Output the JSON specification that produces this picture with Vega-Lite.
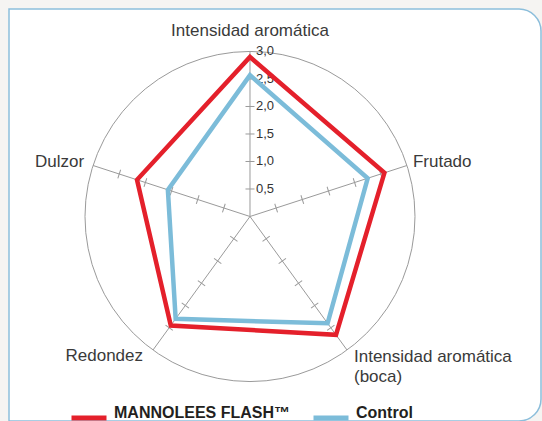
{
  "$schema": "https://vega.github.io/schema/vega-lite/v6.json",
  "width": 532,
  "height": 412,
  "autosize": "none",
  "padding": {"left": 9, "top": 9, "right": 1, "bottom": 0},
  "background": "#f5f4f2",
  "config": {
    "view": {"stroke": "#8cbedb", "strokeWidth": 1.5, "fill": "#ffffff", "cornerRadius": 22},
    "style": {"cell": {"cornerRadiusTopLeft": 0, "cornerRadiusBottomLeft": 0}},
    "font": "Liberation Sans"
  },
  "datasets": {
    "axes": [
      {"i": 0, "axis": "Intensidad aromática"},
      {"i": 1, "axis": "Frutado"},
      {"i": 2, "axis": "Intensidad aromática\n(boca)"},
      {"i": 3, "axis": "Redondez"},
      {"i": 4, "axis": "Dulzor"}
    ],
    "ticks": [
      {"i": 0, "v": [0.5, 1, 1.5, 2, 2.5]},
      {"i": 1, "v": [0.5, 1, 1.5, 2, 2.5]},
      {"i": 2, "v": [0.5, 1, 1.5, 2, 2.5]},
      {"i": 3, "v": [0.5, 1, 1.5, 2, 2.5]},
      {"i": 4, "v": [0.5, 1, 1.5, 2, 2.5]}
    ],
    "scaleLabels": [
      {"v": 0.5, "lab": "0,5"},
      {"v": 1.0, "lab": "1,0"},
      {"v": 1.5, "lab": "1,5"},
      {"v": 2.0, "lab": "2,0"},
      {"v": 2.5, "lab": "2,5"},
      {"v": 3.0, "lab": "3,0"}
    ],
    "scores": [
      {"series": "MANNOLEES FLASH™", "i": 0, "value": 2.9},
      {"series": "MANNOLEES FLASH™", "i": 1, "value": 2.57},
      {"series": "MANNOLEES FLASH™", "i": 2, "value": 2.66},
      {"series": "MANNOLEES FLASH™", "i": 3, "value": 2.45},
      {"series": "MANNOLEES FLASH™", "i": 4, "value": 2.16},
      {"series": "Control", "i": 0, "value": 2.57},
      {"series": "Control", "i": 1, "value": 2.25},
      {"series": "Control", "i": 2, "value": 2.4},
      {"series": "Control", "i": 3, "value": 2.3},
      {"series": "Control", "i": 4, "value": 1.57}
    ]
  },
  "layer": [
    {
      "data": {"values": [{"r": 3}]},
      "transform": [{"calculate": "0", "as": "cx"}],
      "mark": {"type": "point", "shape": "circle", "filled": false, "size": 108900, "stroke": "#9a9a9a", "strokeWidth": 1, "opacity": 1},
      "encoding": {
        "x": {"field": "cx", "type": "quantitative", "scale": {"domain": [-4.3818, 5.2909], "nice": false, "zero": false}, "axis": null},
        "y": {"field": "cx", "type": "quantitative", "scale": {"domain": [-3.7182, 3.7727], "nice": false, "zero": false}, "axis": null}
      }
    },
    {
      "data": {"name": "axes"},
      "transform": [
        {"calculate": "datum.i * 2 * PI / 5", "as": "ang"},
        {"calculate": "0", "as": "cx"},
        {"calculate": "3 * sin(datum.ang)", "as": "ex"},
        {"calculate": "3 * cos(datum.ang)", "as": "ey"}
      ],
      "mark": {"type": "rule", "color": "#9a9a9a", "strokeWidth": 1},
      "encoding": {
        "x": {"field": "cx", "type": "quantitative", "scale": {"domain": [-4.3818, 5.2909], "nice": false, "zero": false}, "axis": null},
        "y": {"field": "cx", "type": "quantitative", "scale": {"domain": [-3.7182, 3.7727], "nice": false, "zero": false}, "axis": null},
        "x2": {"field": "ex"},
        "y2": {"field": "ey"}
      }
    },
    {
      "data": {"name": "ticks"},
      "transform": [
        {"flatten": ["v"]},
        {"calculate": "datum.i * 2 * PI / 5", "as": "ang"},
        {"calculate": "datum.v * sin(datum.ang)", "as": "px"},
        {"calculate": "datum.v * cos(datum.ang)", "as": "py"},
        {"calculate": "datum.i * 72", "as": "deg"}
      ],
      "mark": {"type": "point", "shape": "M-1,0L1,0", "filled": false, "size": 81, "stroke": "#9a9a9a", "strokeWidth": 1, "opacity": 1},
      "encoding": {
        "x": {"field": "px", "type": "quantitative", "scale": {"domain": [-4.3818, 5.2909], "nice": false, "zero": false}, "axis": null},
        "y": {"field": "py", "type": "quantitative", "scale": {"domain": [-3.7182, 3.7727], "nice": false, "zero": false}, "axis": null},
        "angle": {"field": "deg", "type": "quantitative", "scale": null}
      }
    },
    {
      "data": {"name": "scaleLabels"},
      "transform": [{"calculate": "0", "as": "cx"}],
      "mark": {"type": "text", "align": "left", "baseline": "middle", "dx": 6, "fontSize": 13, "color": "#333333", "font": "Liberation Sans"},
      "encoding": {
        "x": {"field": "cx", "type": "quantitative", "scale": {"domain": [-4.3818, 5.2909], "nice": false, "zero": false}, "axis": null},
        "y": {"field": "v", "type": "quantitative", "scale": {"domain": [-3.7182, 3.7727], "nice": false, "zero": false}, "axis": null},
        "text": {"field": "lab", "type": "nominal"}
      }
    },
    {
      "data": {"name": "scores"},
      "transform": [
        {"calculate": "datum.i * 2 * PI / 5", "as": "ang"},
        {"calculate": "datum.value * sin(datum.ang)", "as": "px"},
        {"calculate": "datum.value * cos(datum.ang)", "as": "py"}
      ],
      "mark": {"type": "line", "interpolate": "linear-closed", "strokeWidth": 4.5, "strokeJoin": "miter"},
      "encoding": {
        "x": {"field": "px", "type": "quantitative", "scale": {"domain": [-4.3818, 5.2909], "nice": false, "zero": false}, "axis": null},
        "y": {"field": "py", "type": "quantitative", "scale": {"domain": [-3.7182, 3.7727], "nice": false, "zero": false}, "axis": null},
        "order": {"field": "i", "type": "quantitative"},
        "color": {
          "field": "series",
          "type": "nominal",
          "scale": {"domain": ["MANNOLEES FLASH™", "Control"], "range": ["#e4202b", "#7cbcd9"]},
          "legend": {
            "title": null,
            "orient": "none",
            "legendX": 60,
            "legendY": 389,
            "direction": "horizontal",
            "symbolType": "stroke",
            "symbolSize": 1225,
            "symbolStrokeWidth": 5,
            "labelFont": "Liberation Sans",
            "labelFontSize": 16,
            "labelFontWeight": "bold",
            "labelColor": "#231f20",
            "labelOffset": 5,
            "labelBaseline": "alphabetic",
            "labelLimit": 300,
            "columnPadding": 13
          }
        }
      }
    },
    {
      "data": {"name": "axes"},
      "transform": [
        {"filter": "datum.i == 0"},
        {"calculate": "3 * sin(datum.i * 2 * PI / 5)", "as": "ex"},
        {"calculate": "3 * cos(datum.i * 2 * PI / 5)", "as": "ey"}
      ],
      "mark": {"type": "text", "align": "center", "baseline": "alphabetic", "dy": -15.5, "fontSize": 17, "color": "#3a3a3a", "font": "Liberation Sans"},
      "encoding": {
        "x": {"field": "ex", "type": "quantitative", "scale": {"domain": [-4.3818, 5.2909], "nice": false, "zero": false}, "axis": null},
        "y": {"field": "ey", "type": "quantitative", "scale": {"domain": [-3.7182, 3.7727], "nice": false, "zero": false}, "axis": null},
        "text": {"field": "axis", "type": "nominal"}
      }
    },
    {
      "data": {"name": "axes"},
      "transform": [
        {"filter": "datum.i == 1"},
        {"calculate": "3 * sin(datum.i * 2 * PI / 5)", "as": "ex"},
        {"calculate": "3 * cos(datum.i * 2 * PI / 5)", "as": "ey"}
      ],
      "mark": {"type": "text", "align": "left", "baseline": "alphabetic", "dx": 6, "dy": 1, "fontSize": 17, "color": "#3a3a3a", "font": "Liberation Sans"},
      "encoding": {
        "x": {"field": "ex", "type": "quantitative", "scale": {"domain": [-4.3818, 5.2909], "nice": false, "zero": false}, "axis": null},
        "y": {"field": "ey", "type": "quantitative", "scale": {"domain": [-3.7182, 3.7727], "nice": false, "zero": false}, "axis": null},
        "text": {"field": "axis", "type": "nominal"}
      }
    },
    {
      "data": {"name": "axes"},
      "transform": [
        {"filter": "datum.i == 2"},
        {"calculate": "3 * sin(datum.i * 2 * PI / 5)", "as": "ex"},
        {"calculate": "3 * cos(datum.i * 2 * PI / 5)", "as": "ey"}
      ],
      "mark": {"type": "text", "align": "left", "baseline": "alphabetic", "dx": 7, "dy": 12, "lineHeight": 20, "lineBreak": "\n", "fontSize": 17, "color": "#3a3a3a", "font": "Liberation Sans"},
      "encoding": {
        "x": {"field": "ex", "type": "quantitative", "scale": {"domain": [-4.3818, 5.2909], "nice": false, "zero": false}, "axis": null},
        "y": {"field": "ey", "type": "quantitative", "scale": {"domain": [-3.7182, 3.7727], "nice": false, "zero": false}, "axis": null},
        "text": {"field": "axis", "type": "nominal"}
      }
    },
    {
      "data": {"name": "axes"},
      "transform": [
        {"filter": "datum.i == 3"},
        {"calculate": "3 * sin(datum.i * 2 * PI / 5)", "as": "ex"},
        {"calculate": "3 * cos(datum.i * 2 * PI / 5)", "as": "ey"}
      ],
      "mark": {"type": "text", "align": "right", "baseline": "alphabetic", "dx": -10, "dy": 11, "fontSize": 17, "color": "#3a3a3a", "font": "Liberation Sans"},
      "encoding": {
        "x": {"field": "ex", "type": "quantitative", "scale": {"domain": [-4.3818, 5.2909], "nice": false, "zero": false}, "axis": null},
        "y": {"field": "ey", "type": "quantitative", "scale": {"domain": [-3.7182, 3.7727], "nice": false, "zero": false}, "axis": null},
        "text": {"field": "axis", "type": "nominal"}
      }
    },
    {
      "data": {"name": "axes"},
      "transform": [
        {"filter": "datum.i == 4"},
        {"calculate": "3 * sin(datum.i * 2 * PI / 5)", "as": "ex"},
        {"calculate": "3 * cos(datum.i * 2 * PI / 5)", "as": "ey"}
      ],
      "mark": {"type": "text", "align": "right", "baseline": "alphabetic", "dx": -9, "dy": 1, "fontSize": 17, "color": "#3a3a3a", "font": "Liberation Sans"},
      "encoding": {
        "x": {"field": "ex", "type": "quantitative", "scale": {"domain": [-4.3818, 5.2909], "nice": false, "zero": false}, "axis": null},
        "y": {"field": "ey", "type": "quantitative", "scale": {"domain": [-3.7182, 3.7727], "nice": false, "zero": false}, "axis": null},
        "text": {"field": "axis", "type": "nominal"}
      }
    }
  ]
}
